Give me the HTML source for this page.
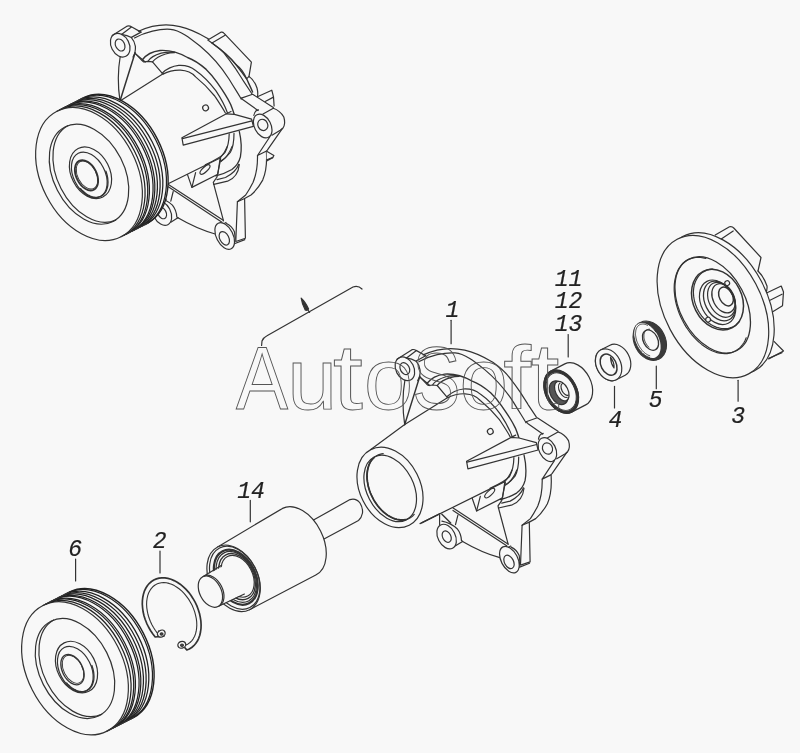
<!DOCTYPE html>
<html><head><meta charset="utf-8"><style>
html,body{margin:0;padding:0;background:#f8f8f8;}
svg{display:block;filter:grayscale(1);}
text{-webkit-font-smoothing:antialiased;}
</style></head><body>
<svg width="800" height="753" viewBox="0 0 800 753">
<rect width="800" height="753" fill="#f8f8f8"/>
<g fill="none" stroke="#333" stroke-width="1.2" stroke-linejoin="round" stroke-linecap="round">
<defs>
<g id="body">
<path d="M121.3,34.3 Q127.5,35 131.4,37.6 Q134.5,41 135.4,46.4 Q135.8,52.5 133,57"/>
<ellipse cx="120.2" cy="45.2" rx="12.5" ry="9" transform="rotate(63 120.2 45.2)" fill="#f8f8f8"/>
<ellipse cx="120.1" cy="45" rx="6.3" ry="4.5" transform="rotate(63 120.1 45)"/>
<path d="M112.3,35.6 L127.3,26.1 Q129.5,25.5 131.4,26.8 L141,32.1"/>
<path d="M121.5,34.6 L131.4,27.1"/>
<path d="M131.4,37.4 L141,32.1"/>
<path d="M120.2,56.5 Q116.5,78 120,101"/>
<path d="M135.1,52.8 L120,101" stroke-width="1.5"/>
<path d="M135.6,53.9 L142,59.2 L145.2,62"/>
<path d="M120,101 L163.5,73.6"/>
<path d="M135,53.1 L142,60.6 L143.7,61.9 L148.1,61.4 L152.5,61.9 L162.1,73.2"/>
<path d="M138.5,31.3 C150,26 165,23 180,26.6 C193,29.5 200,34 208.5,39 C217,45 223,51 227.3,57.3 C231,62 233,65 235.8,69 C238,72.5 241,77 243.2,80.7 L251.7,93.5"/>
<path d="M134.5,37.9 C145,32 160,28.5 170.4,29.3 C180,30 190,38 200,46 C212,56 222,68 229,79 C235,89 239,95 241.3,99.2"/>
<path d="M142.4,59.7 C146,55 152,51.5 160,50.5 C168,50 176,51 187.5,57.5 C193,59.5 200,64 206.2,69.4 C211,74 214,78 216.9,82.2 C221,88 223,91 225.4,94.9 C228,99 229.5,102 230.7,104.5 C232.5,109 234,113 234.9,117.2" stroke-width="1.4"/>
<path d="M148.1,61 C150,58 155,55 161.2,53.1 C166,52 170,52 174.4,52.2"/>
<path d="M152.5,61.9 C154.5,59.5 159,56 165.6,54 C169,53 172,52.7 174.4,52.7"/>
<path d="M162.1,73.2 C167,68.5 173,66 178.7,65.4 C186,65 192,67.5 195.6,70.5 C202,75 210,83 215.8,90.7 C220,97 225,106 227.5,113" stroke-width="1.2"/>
<path d="M163,74.1 C168,71.5 175,70 180.5,70.2 C188,70.6 193,74 195.6,76.9 C202,82 209,89 214.7,96 C218,101 222,107 225.4,113"/>
<ellipse cx="205.6" cy="107.9" rx="2.9" ry="2.9" transform="rotate(63 205.6 107.9)"/>
<path d="M229.2,133.9 Q229,145 225,152.5 Q222,157 205.3,164.7"/>
<path d="M234,133.4 Q234,146 230.3,152.5 Q226,158 221.2,161"/>
<path d="M239.3,131.3 Q242.5,145 240.4,156.8 Q238.5,164.5 231.9,169.5 Q224,174 215.9,175.9" stroke-width="1.3"/>
<path d="M238.8,164.2 Q236,172 225.5,177.5 L217,179.6"/>
<path d="M239.3,164.7 Q238,177 227.6,181.2 L213.8,184.4"/>
<path d="M181.9,137.7 L226.4,113.8 L234.4,114.4 L251.6,119.1 L253.4,126.4 L183.2,145.2 Z" fill="#f8f8f8"/>
<path d="M182.4,138.6 L252,120.9"/>
<path d="M226.4,113.8 L231,111.5"/>
<path d="M263,114.1 L273.3,108.3 Q280,110.5 283.8,117 Q286,124 282.8,128.3 L280.2,130.3 L272,135.2"/>
<ellipse cx="262.7" cy="126" rx="12.7" ry="8.2" transform="rotate(63 262.7 126)" fill="#f8f8f8"/>
<ellipse cx="262.8" cy="124.9" rx="5.8" ry="4.9" transform="rotate(63 262.8 124.9)"/>
<path d="M253.8,115.5 Q254.5,110.5 258.5,109.8"/>
<path d="M241.4,98.1 L243,99.8 L258,110.5"/>
<path d="M241.4,98.1 L252.6,94.2 L273.3,107.6"/>
<path d="M269.7,137 L257.5,155.5 L266.1,151.3 L267.3,150.1 L282.3,128.6"/>
<path d="M257.5,155.5 Q257.8,171 253.1,182.3 Q249.5,189.5 245.7,195 L237.4,201.7"/>
<path d="M266.4,151.5 Q267.5,169 262.7,180.1 Q257.5,189.5 251,195 L244.6,198.5"/>
<path d="M237.4,201.7 L244.6,198.5 L245.4,238.3 L235.8,241.5 Z"/>
<path d="M235,243.5 L244.8,239.6"/>
<path d="M135.3,200 L220.1,158"/>
<path d="M187.5,174.6 L191.9,187.4 L217.8,174.3 L220.1,158.5"/>
<path d="M191.9,187.4 L195.6,172.7"/>
<ellipse cx="205" cy="169.5" rx="6.4" ry="2.4" transform="rotate(-43 205 169.5)"/>
<path d="M220.1,158 Q224.9,152.8 227.3,146.4"/>
<path d="M220.9,161.5 Q228.1,156.8 232.1,146.4"/>
<path d="M220.7,158.9 L217,177 L213.3,182.3 L213.8,184.4"/>
<path d="M213.8,184.4 L217,196.4 L223.5,220.8"/>
<path d="M168.4,184.4 L223.2,220.3"/>
<path d="M168.3,186.8 L222,222.2"/>
<path d="M177.9,217.8 Q197,229 215.2,234"/>
<path d="M157.2,197.5 Q166,199.2 172.4,205.1 Q176.4,210 176.8,217 L177.9,217.8"/>
<path d="M170.8,222.2 L177.9,217.8"/>
<ellipse cx="161.9" cy="213" rx="13.1" ry="8.7" transform="rotate(63 161.9 213)" fill="#f8f8f8"/>
<ellipse cx="162" cy="213" rx="6.1" ry="4.1" transform="rotate(63 162 213)"/>
<path d="M154.9,191.5 L154.9,201.1"/>
<path d="M157.2,190.7 L166,199.5" stroke-width="1.4"/>
<path d="M173.2,191.5 L170.8,201.1"/>
<path d="M226.5,223.5 Q232,226 234.5,232 Q236,238 234.2,243.5 L233,245.5"/>
<path d="M222.5,224.5 L226,222.5"/>
<ellipse cx="224.7" cy="236" rx="14.3" ry="8.3" transform="rotate(63 224.7 236)" fill="#f8f8f8"/>
<ellipse cx="224.3" cy="238.3" rx="7.2" ry="4.5" transform="rotate(63 224.3 238.3)"/>
</g>
<g id="bodyfront">
<ellipse cx="105.3" cy="163.8" rx="42.4" ry="30.1" transform="rotate(63 105.3 163.8)"/>
<ellipse cx="105.5" cy="164.8" rx="35.3" ry="23.4" transform="rotate(63 105.5 164.8)"/>
<path d="M98.5,130.1 L96.8,130.3 L95.2,130.7 L93.7,131.3 L92.2,132 L90.8,132.8 L89.5,133.9 L88.2,135 L87.1,136.3 L86.1,137.8 L85.2,139.3 L84.4,141 L83.8,142.8 L83.2,144.7 L82.8,146.7 L82.5,148.8 L82.4,150.9 L82.3,153.1 L82.4,155.4 L82.7,157.7 L83,160 L83.5,162.3 L84.1,164.7 L84.9,167 L85.7,169.3 L86.7,171.6 L87.8,173.8 L88.9,176 L90.2,178.1 L91.6,180.2 L93.1,182.2 L94.6,184 L96.2,185.8 L97.8,187.5 L99.6,189 L101.3,190.4 L103.1,191.7 L104.9,192.8 L106.8,193.8 L108.6,194.6 L110.5,195.3 L112.3,195.8 L114.2,196.2 L116,196.4 L117.7,196.4 L119.4,196.3 L121.1,196 L122.7,195.5 L124.2,194.9 L125.7,194.1 L127,193.2 L128.3,192.1 L129.5,190.8"/>
<path d="M89.2,134.1 L88,135.3 L86.9,136.6 L85.9,138 L85.1,139.6 L84.3,141.3 L83.7,143.1 L83.2,145 L82.8,146.9 L82.5,149 L82.3,151.1 L82.3,153.3 L82.4,155.6 L82.7,157.8 L83.1,160.1 L83.5,162.4 L84.2,164.8 L84.9,167.1 L85.7,169.4 L86.7,171.6 L87.8,173.8 L88.9,176 L90.2,178.1 L91.6,180.1 L93,182.1 L94.5,184 L96.1,185.7 L97.7,187.4 L99.4,188.9 L101.2,190.3 L102.9,191.6 L104.8,192.7 L106.6,193.7 L108.4,194.5 L110.2,195.2 L112.1,195.8 L113.9,196.1 L115.7,196.4 L117.4,196.4 L119.1,196.3 L120.8,196" stroke-width="1.8"/>
<path d="M86.1,126 L120,101"/>
<path d="M137,199.3 L155.3,190"/>
</g>
</defs>
<use href="#body"/>
<path d="M207.8,40 L220.9,32.2 Q222.8,31.8 223.9,33.1 L251.4,62.1 L249,76.4 L246.6,78.8 C243,70 238,66 235.9,64.5 C230,57 224,52 212,43 Z" fill="#f8f8f8"/>
<path d="M212,43 L225.1,35.2"/>
<path d="M212,43 C222,50 230,57 235.9,64.5 C241,71 244,75 246.6,78.8 C249,84 251,88 252.6,92" stroke-width="1.4"/>
<path d="M249,76.4 Q254.4,80 257,88 Q258.3,93 257.4,96.8"/>
<path d="M257.4,96.8 L271.8,90.2 L273.5,96.8 L274.1,106"/>
<path d="M265.2,101.5 L273,97.4"/>
<path d="M266.7,151.3 L273.9,155.5 L272.7,157.6 L266.7,160.9" fill="#f8f8f8"/>
<path d="M266.7,159.7 L272.7,157.6"/>
<g transform="translate(0 0)">
<path d="M121,236.8 A70.5 47.9 63 0 1 57,111.2 L83.7,97.6 A70.5 47.9 63 0 1 147.7,223.2 Z" fill="#f8f8f8" stroke="none"/>
<ellipse cx="89" cy="174" rx="70.5" ry="47.9" transform="rotate(63 89 174)" fill="#f8f8f8"/>
<g stroke="#222">
<path d="M123.7,235.5 A70.5 47.9 63 0 0 59.7,109.8" stroke-width="1.25"/>
<path d="M126.4,234.1 A70.5 47.9 63 0 0 62.3,108.5" stroke-width="1.25"/>
<path d="M129,232.7 A70.5 47.9 63 0 0 65,107.1" stroke-width="1.25"/>
<path d="M131.7,231.4 A70.5 47.9 63 0 0 67.7,105.7" stroke-width="1.25"/>
<path d="M134.4,230 A70.5 47.9 63 0 0 70.4,104.4" stroke-width="1.25"/>
<path d="M137,228.6 A70.5 47.9 63 0 0 73,103" stroke-width="1.25"/>
<path d="M139.7,227.3 A70.5 47.9 63 0 0 75.7,101.7" stroke-width="1.25"/>
<path d="M142.4,225.9 A70.5 47.9 63 0 0 78.4,100.3" stroke-width="1.25"/>
<path d="M145.1,224.6 A70.5 47.9 63 0 0 81.1,98.9" stroke-width="1.25"/>
<path d="M147.7,223.2 A70.5 47.9 63 0 0 83.7,97.6" stroke-width="1.4"/>
</g>
<path d="M57,111.2 L83.7,97.6"/>
<path d="M121,236.8 L147.7,223.2"/>
<ellipse cx="89" cy="174.2" rx="53" ry="35.5" transform="rotate(63 89 174.2)"/>
<path d="M115.7,220.1 A53 35.5 63 0 1 67.6,125.7"/>
<ellipse cx="90.5" cy="172.8" rx="27.2" ry="19.2" transform="rotate(63 90.5 172.8)"/>
<ellipse cx="89.3" cy="174.9" rx="24.3" ry="15.8" transform="rotate(63 89.3 174.9)"/>
<path d="M80.6,188.6 L81.7,189.9 L82.9,191 L84.1,192.1 L85.3,193.1 L86.5,194 L87.7,194.8 L89,195.4 L90.3,196 L91.5,196.5 L92.8,196.9 L94,197.1 L95.3,197.3 L96.4,197.3 L97.6,197.2 L98.7,197 L99.8,196.7 L100.9,196.3 L101.8,195.7 L102.8,195.1 L103.6,194.4 L104.4,193.5 L105.1,192.6 L105.8,191.6 L106.4,190.4 L106.8,189.2 L107.2,188 L107.6,186.6 L107.8,185.3 L107.9,183.8 L108,182.3 L107.9,180.8 L107.8,179.2 L107.6,177.6 L107.3,176 L106.9,174.4 L106.4,172.8 L105.9,171.2" stroke-width="1.3"/>
<ellipse cx="86.5" cy="175.3" rx="16.2" ry="10.2" transform="rotate(63 86.5 175.3)" stroke-width="1.8"/>
<ellipse cx="87" cy="175" rx="15" ry="9.3" transform="rotate(63 87 175)" stroke-width="0.9"/>
</g>
<g transform="translate(284.7 323.6)"><use href="#body"/><use href="#bodyfront"/></g>
<path d="M715.2,235 L729.5,226.75 Q732,226 734,228.25 L761,257.5 L758,271" fill="#f8f8f8"/>
<path d="M720.5,239.5 L733.2,231"/>
<path d="M758,271 Q764,277 767,286 Q767.5,290 765.5,293.5"/>
<path d="M765.5,293.5 L781.25,286 L783.5,292 L782.5,305.8 L771.9,312.2" fill="#f8f8f8"/>
<path d="M768.5,301 L782,294.25"/>
<path d="M774,341.4 L783.5,351 L768.7,358.9" fill="#f8f8f8"/>
<path d="M768.9,358.2 L782,352.6"/>
<ellipse cx="718.4" cy="303.8" rx="76.2" ry="48.5" transform="rotate(62 718.4 303.8)" fill="#f8f8f8"/>
<ellipse cx="712.9" cy="306.6" rx="76.2" ry="48.5" transform="rotate(62 712.9 306.6)" fill="#f8f8f8"/>
<ellipse cx="712.7" cy="304.9" rx="51.6" ry="32.8" transform="rotate(62 712.7 304.9)" stroke-width="1.3"/>
<path d="M705.8,258.5 L703.2,257.9 L700.7,257.5 L698.2,257.4 L695.8,257.5 L693.5,257.9 L691.3,258.4 L689.1,259.2 L687.1,260.3 L685.2,261.5 L683.4,263 L681.8,264.7 L680.3,266.6 L678.9,268.6 L677.7,270.9 L676.7,273.3 L675.9,275.8 L675.2,278.6 L674.7,281.4 L674.3,284.4 L674.2,287.4 L674.2,290.6 L674.5,293.8 L674.9,297.1 L675.4,300.4 L676.2,303.8 L677.1,307.1 L678.2,310.5 L679.4,313.8 L680.8,317.1 L682.4,320.3 L684.1,323.5 L685.9,326.6 L687.9,329.5 L690,332.4 L692.1,335.1 L694.4,337.7 L696.8,340.1 L699.2,342.4 L701.7,344.4 L704.2,346.3 L706.8,348 L709.4,349.5 L712,350.7 L714.6,351.8 L717.1,352.6 L719.7,353.2 L722.2,353.5 L724.7,353.7 L727.1,353.6 L729.4,353.2 L731.6,352.6 L733.8,351.8 L735.8,350.8 L737.7,349.5 L739.5,348.1 L741.1,346.4 L742.6,344.5 L744,342.5 L745.2,340.2 L746.2,337.8"/>
<ellipse cx="717.5" cy="299.6" rx="31.7" ry="24.3" transform="rotate(63 717.5 299.6)" stroke-width="1.5"/>
<path d="M712.9,269.1 L711.2,269.2 L709.5,269.4 L707.9,269.8 L706.3,270.4 L704.8,271.1 L703.3,271.9 L701.9,272.8 L700.7,273.9 L699.5,275.1 L698.4,276.4 L697.4,277.9 L696.5,279.4 L695.7,281 L695,282.7 L694.4,284.5 L694,286.4 L693.7,288.3 L693.5,290.3 L693.4,292.3 L693.5,294.3 L693.7,296.4 L694,298.5 L694.4,300.6 L694.9,302.6 L695.6,304.7 L696.4,306.7 L697.2,308.7 L698.2,310.6 L699.3,312.5 L700.5,314.3 L701.8,316.1 L703.1,317.7 L704.6,319.3 L706.1,320.8 L707.6,322.1 L709.3,323.4 L710.9,324.5 L712.6,325.5 L714.4,326.4 L716.1,327.1 L717.9,327.7 L719.7,328.2 L721.5,328.5 L723.2,328.7 L725,328.7 L726.7,328.6 L728.4,328.3 L730,327.9 L731.6,327.4 L733.1,326.7 L734.5,325.9 L735.9,324.9 L737.2,323.8 L738.4,322.6 L739.5,321.3"/>
<ellipse cx="717.6" cy="302.3" rx="23.5" ry="16.5" transform="rotate(63 717.6 302.3)"/>
<ellipse cx="719.5" cy="301" rx="21" ry="14.5" transform="rotate(63 719.5 301)" stroke-width="1.3"/>
<ellipse cx="721.5" cy="299.8" rx="18.5" ry="12.5" transform="rotate(63 721.5 299.8)"/>
<ellipse cx="723.5" cy="298.3" rx="15.5" ry="10.5" transform="rotate(63 723.5 298.3)" stroke-width="1.3"/>
<ellipse cx="726" cy="296.5" rx="10" ry="6.6" transform="rotate(63 726 296.5)" stroke-width="1.5"/>
<ellipse cx="727.2" cy="283.1" rx="2.4" ry="2.4" transform="rotate(63 727.2 283.1)" fill="#f8f8f8"/>
<ellipse cx="708.1" cy="319.6" rx="2.4" ry="2.4" transform="rotate(63 708.1 319.6)" fill="#f8f8f8"/>
<ellipse cx="649.8" cy="340.8" rx="20.6" ry="15.6" transform="rotate(63 649.8 340.8)" fill="#3a3a3a" stroke-width="1"/>
<ellipse cx="647.2" cy="340.2" rx="19.0" ry="11.6" transform="rotate(63 647.2 340.2)" fill="#f8f8f8" stroke="none"/>
<path d="M655.9,332.1 L655.1,331 L654.4,329.9 L653.5,329 L652.7,328 L651.8,327.1 L650.9,326.3 L650,325.6 L649,324.9 L648.1,324.3 L647.2,323.8 L646.2,323.4 L645.3,323 L644.3,322.8 L643.4,322.6 L642.5,322.5 L641.6,322.5 L640.8,322.6 L640,322.7 L639.2,323 L638.4,323.3 L637.8,323.8 L637.1,324.3 L636.5,324.9 L635.9,325.5 L635.5,326.3 L635,327.1 L634.6,327.9 L634.3,328.9 L634.1,329.9 L633.9,330.9 L633.8,332 L633.7,333.1 L633.8,334.3 L633.8,335.5 L634,336.7 L634.2,337.9 L634.5,339.1 L634.8,340.4 L635.2,341.6 L635.7,342.9 L636.2,344.1 L636.8,345.3 L637.4,346.5 L638.1,347.6 L638.8,348.8 L639.6,349.8 L640.4,350.9 L641.2,351.8 L642.1,352.7 L643,353.6 L643.9,354.4 L644.8,355.1 L645.7,355.7 L646.7,356.3 L647.6,356.8 L648.6,357.2 L649.5,357.5" stroke-width="1"/>
<path d="M647.5,325.3 L646.6,324.9 L645.8,324.5 L644.9,324.3 L644.1,324.1 L643.3,324 L642.5,324 L641.8,324.1 L641,324.2 L640.3,324.4 L639.7,324.7 L639.1,325.1 L638.5,325.5 L637.9,326.1 L637.5,326.7 L637,327.3 L636.6,328 L636.3,328.8 L636,329.7 L635.8,330.6 L635.7,331.5 L635.6,332.5 L635.5,333.5 L635.5,334.6 L635.6,335.6 L635.8,336.7 L636,337.9 L636.2,339 L636.5,340.1 L636.9,341.3 L637.3,342.4 L637.8,343.5 L638.3,344.6 L638.9,345.7 L639.5,346.7 L640.2,347.8 L640.9,348.7 L641.6,349.7 L642.3,350.6 L643.1,351.4 L643.9,352.2 L644.7,352.9 L645.6,353.6 L646.4,354.1 L647.3,354.7 L648.1,355.1 L649,355.5 L649.8,355.8" stroke-width="0.9"/>
<ellipse cx="650.5" cy="340.1" rx="10.8" ry="7.2" transform="rotate(63 650.5 340.1)" stroke-width="1.3"/>
<path d="M649.5,329.2 L649,329.2 L648.5,329.3 L648,329.4 L647.5,329.5 L647,329.8 L646.6,330 L646.2,330.3 L645.8,330.6 L645.4,331 L645.1,331.4 L644.8,331.9 L644.6,332.4 L644.4,332.9 L644.2,333.5 L644,334.1 L643.9,334.7 L643.9,335.4 L643.9,336 L643.9,336.7 L643.9,337.4 L644,338.1 L644.1,338.8 L644.3,339.5 L644.5,340.2 L644.8,340.9 L645,341.6 L645.3,342.3 L645.7,343 L646.1,343.6 L646.5,344.3 L646.9,344.9 L647.3,345.5 L647.8,346 L648.3,346.5 L648.8,347" stroke-width="1"/>
<path d="M616.2,379.8 A16.8 12.1 63 0 1 601,349.8 L610,345.2 A16.8 12.1 63 0 1 625.2,375.2 Z" fill="#f8f8f8"/>
<ellipse cx="608.6" cy="364.8" rx="16.8" ry="12.1" transform="rotate(63 608.6 364.8)" fill="#f8f8f8"/>
<ellipse cx="608.6" cy="364.7" rx="11.2" ry="7.6" transform="rotate(63 608.6 364.7)" stroke-width="1.5"/>

<path d="M610.5,357.5 Q614.5,362 614,368 Q611,364 610.5,357.5"/>
<path d="M571.6,412.1 A23 15.6 63 0 1 550.8,371.1 L564.8,363.9 A23 15.6 63 0 1 585.7,404.9 Z" fill="#f8f8f8"/>
<ellipse cx="561.2" cy="391.6" rx="23" ry="15.6" transform="rotate(63 561.2 391.6)" fill="#f8f8f8"/>
<ellipse cx="561.2" cy="391.6" rx="21.7" ry="14.8" transform="rotate(63 561.2 391.6)" stroke-width="2.8"/>
<ellipse cx="561.2" cy="391.6" rx="19.9" ry="13.5" transform="rotate(63 561.2 391.6)" stroke-width="0.9"/>
<ellipse cx="558.7" cy="392.7" rx="12.6" ry="8.4" transform="rotate(63 558.7 392.7)" fill="#555" stroke-width="1.3"/>
<ellipse cx="561.8" cy="391.1" rx="10.5" ry="6.2" transform="rotate(63 561.8 391.1)" fill="#f8f8f8"/>
<path d="M567.2,397.3 A8 4.6 63 0 1 560,383.1"/>
<path d="M568.3,395.1 A6.5 3.6 63 0 1 562.4,383.5"/>
<path d="M313.5,520 L350,499.6 Q356,497.8 360,503 Q363,508 362.5,513 Q361.5,518 358.5,520.5 L324,539" fill="#f8f8f8"/>
<path d="M217.6,546.9 L282.5,508.4 A37.2 23.9 63.4 0 1 315.8,575 L249.6,609.7 Z" fill="#f8f8f8" stroke="none"/>
<path d="M217.6,546.9 L282.5,508.4 A37.2 23.9 63.4 0 1 315.8,575 L249.6,609.7"/>
<ellipse cx="233.6" cy="578.3" rx="35.2" ry="24" transform="rotate(63 233.6 578.3)" fill="#f8f8f8"/>
<ellipse cx="234.7" cy="577.8" rx="33.4" ry="22.6" transform="rotate(63 234.7 577.8)"/>
<ellipse cx="235.8" cy="577.2" rx="29.2" ry="19.6" transform="rotate(63 235.8 577.2)" stroke-width="2.2"/>
<ellipse cx="236.3" cy="576.9" rx="27" ry="18" transform="rotate(63 236.3 576.9)"/>
<ellipse cx="237" cy="576.6" rx="24.5" ry="16.4" transform="rotate(63 237 576.6)" stroke-width="1.4"/>
<ellipse cx="237.6" cy="576.3" rx="22.2" ry="14.8" transform="rotate(63 237.6 576.3)"/>
<path d="M202.8,576.7 L229.5,563.1 L244.7,592.9 L218,606.5 Z" fill="#f8f8f8" stroke="none"/>
<path d="M202.8,576.7 L221.6,565.3"/>
<path d="M218,606.5 L244.4,594"/>
<ellipse cx="210.4" cy="591.6" rx="16.7" ry="10.7" transform="rotate(63 210.4 591.6)" fill="#f8f8f8"/>
<path d="M219.4,605.8 A16.7 10.7 63 0 0 204.2,576"/>
<path d="M184.5,647.2 L186.8,650 L189.3,649 L191.7,647.5 L193.8,645.7 L195.7,643.5 L197.4,641.1 L198.7,638.3 L199.8,635.2 L200.5,632 L201,628.5 L201.1,624.9 L200.9,621.2 L200.3,617.4 L199.5,613.5 L198.3,609.7 L196.9,605.9 L195.1,602.2 L193.1,598.7 L190.9,595.3 L188.5,592.1 L185.8,589.2 L183.1,586.6 L180.2,584.2 L177.2,582.2 L174.1,580.6 L171,579.3 L167.9,578.4 L164.9,577.9 L161.9,577.8 L159.1,578.1 L156.4,578.9 L153.8,580 L151.5,581.5 L149.4,583.3 L147.5,585.5 L145.9,588 L144.5,590.8 L143.5,593.9 L142.8,597.2 L142.4,600.6 L142.3,604.3 L142.6,608 L143.1,611.8 L144,615.7 L145.2,619.5 L146.7,623.3 L148.5,627 L150.5,630.5 L152.7,633.8 L155.2,637 L163.8,636.2" stroke-width="1.7"/>
<path d="M179.6,642.6 L181.4,646.1 L183.8,645.7 L186,645 L188.1,643.9 L190,642.5 L191.7,640.8 L193.2,638.8 L194.5,636.5 L195.5,633.9 L196.2,631.2 L196.6,628.2 L196.8,625.1 L196.7,621.9 L196.3,618.6 L195.6,615.3 L194.7,611.9 L193.5,608.6 L192.1,605.3 L190.4,602.2 L188.6,599.1 L186.5,596.3 L184.3,593.6 L181.9,591.2 L179.4,589 L176.9,587.2 L174.3,585.6 L171.6,584.3 L169,583.4 L166.3,582.8 L163.8,582.6 L161.3,582.8 L159,583.3 L156.7,584.1 L154.7,585.3 L152.8,586.8 L151.2,588.6 L149.8,590.7 L148.6,593 L147.7,595.6 L147.1,598.5 L146.7,601.4 L146.6,604.6 L146.8,607.8 L147.3,611.1 L148,614.5 L149,617.8 L150.3,621.2 L151.8,624.4 L153.5,627.5 L155.4,630.5 L157.5,633.3 L159.8,635.9 L158.7,630.8" stroke-width="1.1"/>
<ellipse cx="161.3" cy="633.6" rx="4" ry="3.3" transform="rotate(-30 161.3 633.6)" fill="#f8f8f8" stroke-width="1.3"/>
<ellipse cx="161.6" cy="634" rx="1.4" ry="1.2" transform="rotate(0 161.6 634)" fill="#555"/>
<ellipse cx="181.8" cy="644.8" rx="4" ry="3.3" transform="rotate(-20 181.8 644.8)" fill="#f8f8f8" stroke-width="1.3"/>
<ellipse cx="182" cy="645.2" rx="1.4" ry="1.2" transform="rotate(0 182 645.2)" fill="#555"/>
<path d="M261.6,345.5 L262,341 Q263.5,337.5 267,335.8 L353,287 Q358,285 362,289"/>
<path d="M301.2,298.2 Q305.5,302 308.6,309 Q307.2,311 305.2,310 Q302,304 301.2,298.2 Z" fill="#333"/>
<path d="M307.6,309.5 L309.6,312.3"/>
<path d="M451.1,320.3 L451.1,343.7"/>
<path d="M568.2,334.5 L568.2,357"/>
<path d="M614.5,386.4 L614.5,408"/>
<path d="M656.3,366 L656.3,388.7"/>
<path d="M738.1,380.3 L738.1,401.2"/>
<path d="M250.3,500.4 L250.3,521.8"/>
<path d="M75.6,559 L75.6,581"/>
<path d="M160,551 L160,573"/>
<g transform="translate(-14 494.3)">
<path d="M121,236.8 A70.5 47.9 63 0 1 57,111.2 L83.7,97.6 A70.5 47.9 63 0 1 147.7,223.2 Z" fill="#f8f8f8" stroke="none"/>
<ellipse cx="89" cy="174" rx="70.5" ry="47.9" transform="rotate(63 89 174)" fill="#f8f8f8"/>
<g stroke="#222">
<path d="M123.7,235.5 A70.5 47.9 63 0 0 59.7,109.8" stroke-width="1.25"/>
<path d="M126.4,234.1 A70.5 47.9 63 0 0 62.3,108.5" stroke-width="1.25"/>
<path d="M129,232.7 A70.5 47.9 63 0 0 65,107.1" stroke-width="1.25"/>
<path d="M131.7,231.4 A70.5 47.9 63 0 0 67.7,105.7" stroke-width="1.25"/>
<path d="M134.4,230 A70.5 47.9 63 0 0 70.4,104.4" stroke-width="1.25"/>
<path d="M137,228.6 A70.5 47.9 63 0 0 73,103" stroke-width="1.25"/>
<path d="M139.7,227.3 A70.5 47.9 63 0 0 75.7,101.7" stroke-width="1.25"/>
<path d="M142.4,225.9 A70.5 47.9 63 0 0 78.4,100.3" stroke-width="1.25"/>
<path d="M145.1,224.6 A70.5 47.9 63 0 0 81.1,98.9" stroke-width="1.25"/>
<path d="M147.7,223.2 A70.5 47.9 63 0 0 83.7,97.6" stroke-width="1.4"/>
</g>
<path d="M57,111.2 L83.7,97.6"/>
<path d="M121,236.8 L147.7,223.2"/>
<ellipse cx="89" cy="174.2" rx="53" ry="35.5" transform="rotate(63 89 174.2)"/>
<path d="M115.7,220.1 A53 35.5 63 0 1 67.6,125.7"/>
<ellipse cx="90.5" cy="172.8" rx="27.2" ry="19.2" transform="rotate(63 90.5 172.8)"/>
<ellipse cx="89.3" cy="174.9" rx="24.3" ry="15.8" transform="rotate(63 89.3 174.9)"/>
<path d="M80.6,188.6 L81.7,189.9 L82.9,191 L84.1,192.1 L85.3,193.1 L86.5,194 L87.7,194.8 L89,195.4 L90.3,196 L91.5,196.5 L92.8,196.9 L94,197.1 L95.3,197.3 L96.4,197.3 L97.6,197.2 L98.7,197 L99.8,196.7 L100.9,196.3 L101.8,195.7 L102.8,195.1 L103.6,194.4 L104.4,193.5 L105.1,192.6 L105.8,191.6 L106.4,190.4 L106.8,189.2 L107.2,188 L107.6,186.6 L107.8,185.3 L107.9,183.8 L108,182.3 L107.9,180.8 L107.8,179.2 L107.6,177.6 L107.3,176 L106.9,174.4 L106.4,172.8 L105.9,171.2" stroke-width="1.3"/>
<ellipse cx="86.5" cy="175.3" rx="16.2" ry="10.2" transform="rotate(63 86.5 175.3)" stroke-width="1.3"/>
<ellipse cx="87" cy="175" rx="15" ry="9.3" transform="rotate(63 87 175)" stroke-width="0.9"/>
</g>
</g>
<g font-family="Liberation Mono" font-style="italic" font-size="23" fill="#222" stroke="#222" stroke-width="0.2" opacity="0.999">
<text x="554.7" y="285.8" stroke-linejoin="round">11</text>
<text x="554.7" y="308.3" stroke-linejoin="round">12</text>
<text x="554.7" y="330.8" stroke-linejoin="round">13</text>
<text x="445.4" y="317.4" stroke-linejoin="round">1</text>
<text x="237.3" y="497.8" stroke-linejoin="round">14</text>
<text x="68.3" y="555.8" stroke-linejoin="round">6</text>
<text x="152.8" y="547.8" stroke-linejoin="round">2</text>
<text x="608.6" y="427" stroke-linejoin="round">4</text>
<text x="648.8" y="406.5" stroke-linejoin="round">5</text>
<text x="731.3" y="422.6" stroke-linejoin="round">3</text>
</g>
<g font-family="Liberation Sans" font-size="87" fill="none" stroke="#555" stroke-width="0.9">
<text transform="translate(236.1 408.5) scale(0.897 1.030)" stroke-width="0.95">A</text>
<text transform="translate(287.2 408.5) scale(1.032 1.000)" stroke-width="0.89">u</text>
<text transform="translate(364.1 408.5) scale(1.015 1.000)" stroke-width="0.89">o</text>
<text transform="translate(412.2 408.5) scale(0.831 1.030)" stroke-width="0.99">S</text>
<text transform="translate(459.5 408.5) scale(1.000 1.000)" stroke-width="0.90">o</text>
<text transform="translate(332.8 408.5) scale(1.250 1.060)" stroke-width="0.80">t</text>
<text transform="translate(503.3 408.5) scale(1.150 1.020)" stroke-width="0.84">f</text>
<text transform="translate(530.6 408.5) scale(1.200 1.080)" stroke-width="0.82">t</text>
</g>
</svg>
</body></html>
